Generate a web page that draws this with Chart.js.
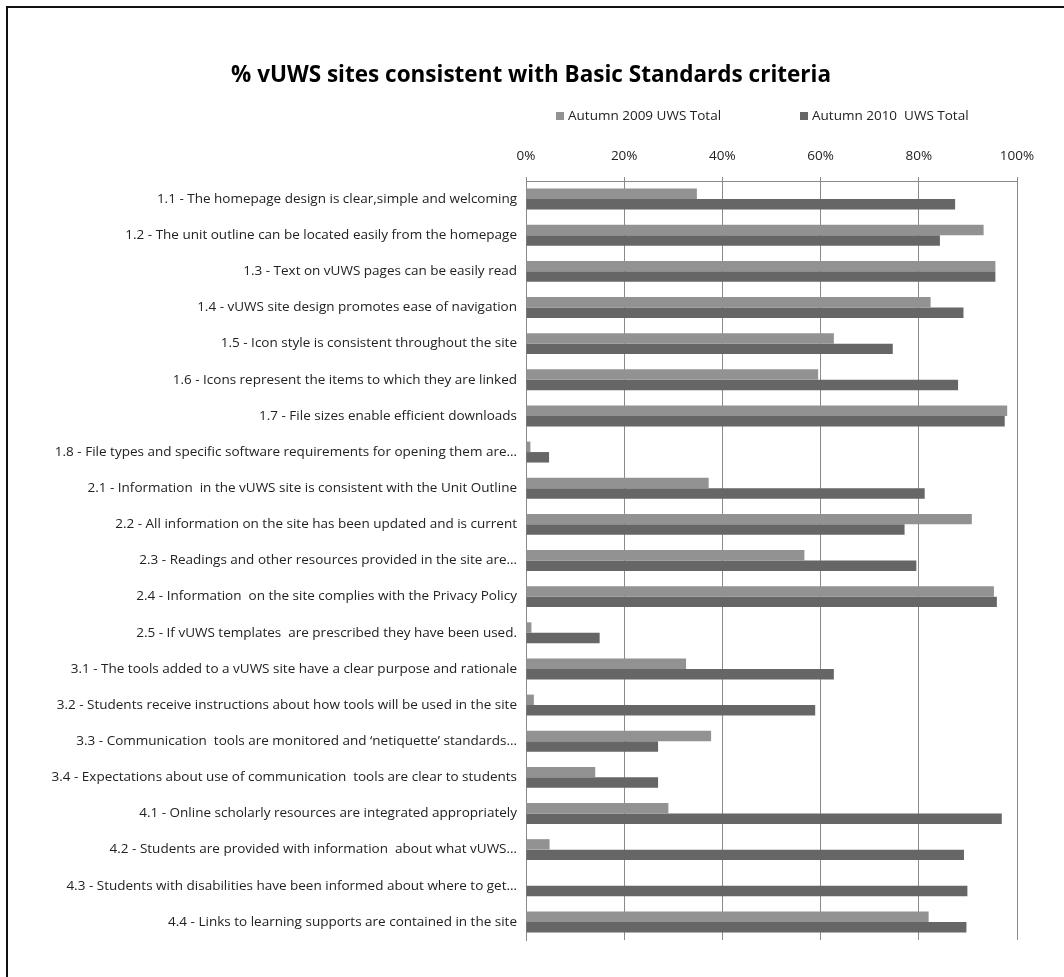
<!DOCTYPE html>
<html>
<head>
<meta charset="utf-8">
<script src="https://cdn.jsdelivr.net/npm/chart.js@4"></script>
<style>
  html, body { margin: 0; padding: 0; background: #fff; overflow: hidden; }
  #wrap { position: relative; width: 1064px; height: 977px; }
  #frame {
    position: absolute; left: 6px; top: 6px; width: 1200px; height: 1100px;
    border-left: 2px solid #111; border-top: 2px solid #111; pointer-events: none;
  }
  #coverL { position: absolute; left: 0; top: 0; width: 6px; height: 977px; background: #fff; }
</style>
</head>
<body>
<div id="wrap">
  <canvas id="chart" width="1064" height="977"></canvas>
  <div id="coverL"></div>
  <div id="frame"></div>
</div>
<script>
  // Criteria (top to bottom)
  const criteria = [
    '1.1 - The homepage design is clear,simple and welcoming',
    '1.2 - The unit outline can be located easily from the homepage',
    '1.3 - Text on vUWS pages can be easily read',
    '1.4 - vUWS site design promotes ease of navigation',
    '1.5 - Icon style is consistent throughout the site',
    '1.6 - Icons represent the items to which they are linked',
    '1.7 - File sizes enable efficient downloads',
    '1.8 - File types and specific software requirements for opening them are…',
    '2.1 - Information  in the vUWS site is consistent with the Unit Outline',
    '2.2 - All information on the site has been updated and is current',
    '2.3 - Readings and other resources provided in the site are…',
    '2.4 - Information  on the site complies with the Privacy Policy',
    '2.5 - If vUWS templates  are prescribed they have been used.',
    '3.1 - The tools added to a vUWS site have a clear purpose and rationale',
    '3.2 - Students receive instructions about how tools will be used in the site',
    '3.3 - Communication  tools are monitored and ‘netiquette’ standards…',
    '3.4 - Expectations about use of communication  tools are clear to students',
    '4.1 - Online scholarly resources are integrated appropriately',
    '4.2 - Students are provided with information  about what vUWS…',
    '4.3 - Students with disabilities have been informed about where to get…',
    '4.4 - Links to learning supports are contained in the site'
  ];

  // Percent of sites
  const autumn2009 = [34.8, 93.2, 95.6, 82.4, 62.7, 59.5, 98.0, 0.9, 37.2, 90.8, 56.7,
                      95.3, 1.1, 32.6, 1.6, 37.7, 14.1, 29.0, 4.8, 0, 82.0];
  const autumn2010 = [87.4, 84.3, 95.6, 89.1, 74.7, 88.0, 97.5, 4.7, 81.2, 77.1, 79.5,
                      95.9, 15.0, 62.7, 58.9, 26.9, 26.9, 96.9, 89.2, 89.9, 89.7];

  const xTicks = [0, 20, 40, 60, 80, 100];

  const chartTitle = '% vUWS sites consistent with Basic Standards criteria';
  const seriesNames = ['Autumn 2009 UWS Total', 'Autumn 2010  UWS Total'];
  const lightGrey = '#929292';
  const darkGrey = '#666666';
  const gridGrey = '#8a8a8a';
  const FONT = '"Open Sans", sans-serif';

  // title + legend drawn above the axis (title centred on the whole frame)
  const header = {
    id: 'header',
    afterDraw(chart) {
      const ctx = chart.ctx;
      const left = chart.chartArea.left;
      ctx.save();
      ctx.textBaseline = 'middle';
      ctx.textAlign = 'center';
      ctx.fillStyle = '#000';
      ctx.font = 'bold 22.5px ' + FONT;
      ctx.fillText(chartTitle, 531, 76);

      const items = [
        { text: seriesNames[0], color: lightGrey, x: left + 30 },
        { text: seriesNames[1], color: darkGrey, x: left + 274 }
      ];
      ctx.textAlign = 'left';
      ctx.font = '13.5px ' + FONT;
      items.forEach(it => {
        ctx.fillStyle = it.color;
        ctx.fillRect(it.x, 112, 8, 8);
        ctx.fillStyle = '#222';
        ctx.fillText(it.text, it.x + 12, 116);
      });
      ctx.restore();
    }
  };

  const ctx = document.getElementById('chart').getContext('2d');
  const chart = new Chart(ctx, {
    type: 'bar',
    data: {
      labels: criteria,
      datasets: [
        { label: seriesNames[0], data: autumn2009, backgroundColor: lightGrey },
        { label: seriesNames[1], data: autumn2010, backgroundColor: darkGrey }
      ]
    },
    options: {
      indexAxis: 'y',
      responsive: false,
      animation: false,
      categoryPercentage: 0.58,
      barPercentage: 1.0,
      layout: { padding: { left: 0, right: 47, top: 141, bottom: 37 } },
      plugins: {
        legend: { display: false },
        tooltip: { enabled: false },
        title: { display: false }
      },
      scales: {
        x: {
          position: 'top',
          min: 0,
          max: 100,
          afterBuildTicks(scale) {
            scale.ticks = xTicks.map(v => ({ value: v }));
          },
          afterFit(scale) { scale.height = 40; },
          ticks: {
            callback: v => v + '%',
            color: '#222',
            font: { family: FONT, size: 13.5 },
            padding: 13
          },
          grid: { color: gridGrey, lineWidth: 1, tickLength: 4 },
          border: { color: gridGrey }
        },
        y: {
          afterFit(scale) { scale.width = 526; },
          ticks: {
            color: '#222',
            font: { family: FONT, size: 13.5 },
            padding: 9,
            autoSkip: false
          },
          grid: { drawOnChartArea: false, drawTicks: false },
          border: { color: gridGrey }
        }
      }
    },
    plugins: [header]
  });
</script>
</body>
</html>
